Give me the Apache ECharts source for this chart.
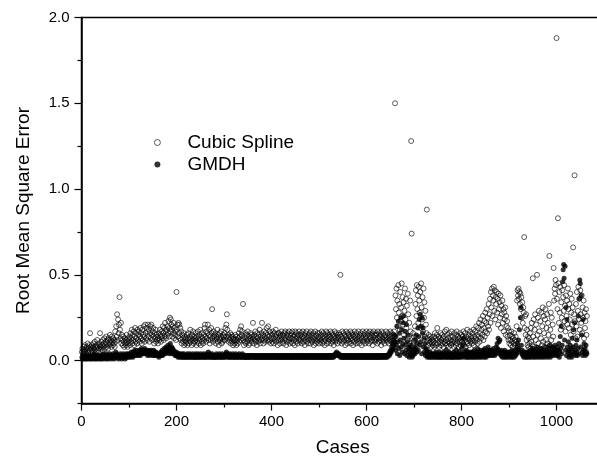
<!DOCTYPE html>
<html><head><meta charset="utf-8">
<script src="https://cdn.jsdelivr.net/npm/echarts@6/dist/echarts.min.js"></script>
<style>html,body{margin:0;padding:0;background:#fff}#c{width:597px;height:456px}</style>
</head><body><div id="c"></div>
<script>
// Values in hundredths, case index starts at 1
const cubicSpline = [
5,7,4,6,8,5,9,6,4,7,8,6,10,5,7,9,6,16,8,7,
6,9,5,8,10,7,6,11,8,5,9,7,12,8,6,10,7,9,16,8,
7,11,9,6,12,8,10,13,7,9,11,14,8,10,12,7,13,9,11,15,
10,12,8,14,11,9,13,10,12,8,17,11,20,14,27,12,24,16,21,37,
18,13,22,10,15,12,9,14,11,8,13,10,12,9,15,11,8,13,10,12,
14,9,16,11,13,18,10,15,12,17,9,14,19,11,16,13,10,18,12,15,
17,11,14,19,13,16,10,18,12,15,20,14,11,21,16,13,19,12,17,21,
14,18,11,16,20,13,21,15,12,17,19,14,10,16,13,18,11,15,12,14,
10,13,16,12,18,15,11,14,17,13,20,16,12,19,14,22,17,13,18,15,
20,16,23,14,19,25,17,24,21,18,14,20,16,22,13,19,15,17,12,40,
18,21,14,22,16,21,13,19,12,17,10,15,13,11,16,9,14,12,10,13,
11,15,9,13,16,10,12,14,18,11,13,9,15,12,17,10,14,11,13,16,
12,9,14,11,17,13,10,15,12,18,9,14,16,11,13,10,15,12,19,21,
14,11,17,13,16,21,12,15,18,10,14,12,19,16,30,13,11,17,14,15,
12,16,10,14,13,18,11,15,9,13,16,12,14,17,10,13,11,15,12,14,
16,12,19,14,21,27,18,13,15,11,14,12,16,10,13,15,11,14,9,12,
13,10,12,15,11,9,14,12,10,13,16,11,14,18,12,20,15,17,13,33,
12,9,14,11,16,10,13,15,11,17,12,9,14,10,13,16,12,15,11,14,
22,13,10,15,12,17,11,14,9,16,13,11,15,12,18,10,14,12,16,22,
13,15,10,17,12,14,11,16,13,19,12,15,20,11,14,17,12,16,10,13,
15,11,17,13,10,16,12,14,18,11,15,13,9,16,12,16,14,10,15,12,
17,13,11,15,10,14,16,12,17,13,9,15,11,16,14,12,17,10,13,15,
11,16,13,17,10,14,12,15,9,17,13,11,16,14,10,15,12,17,13,11,
15,12,16,10,14,17,11,13,15,9,16,12,14,17,11,13,10,15,12,16,
14,10,17,12,15,11,13,16,9,14,12,17,10,15,13,11,16,12,14,10,
16,13,11,15,12,17,10,14,16,11,13,9,15,12,17,14,10,16,13,11,
15,12,14,17,10,13,16,11,15,12,9,14,17,13,11,16,12,15,10,14,
13,16,11,15,50,12,14,10,17,13,11,16,12,15,9,14,17,12,13,10,
16,12,15,11,14,17,10,13,16,12,15,9,14,11,17,13,15,10,16,12,
14,11,17,13,10,15,12,16,14,9,13,17,11,15,12,16,10,14,13,17,
11,15,12,16,10,14,17,13,11,15,12,16,9,14,17,12,15,11,13,16,
12,15,10,17,13,11,16,14,12,15,9,17,13,11,16,12,14,10,15,13,
17,12,14,11,16,13,10,15,12,17,14,11,16,13,12,15,10,17,14,150,
38,30,42,25,35,20,44,28,33,18,40,23,31,45,26,37,21,34,15,29,
42,24,36,19,32,12,39,27,14,22,10,35,17,128,74,13,9,16,11,14,
12,20,33,41,26,44,30,38,22,43,35,28,40,19,45,31,24,37,17,42,
25,34,14,29,21,16,88,11,13,9,15,12,10,14,11,8,13,10,12,9,
11,14,8,16,10,13,9,15,19,12,10,14,8,13,11,16,9,12,15,10,
13,8,14,11,17,10,12,18,9,15,11,13,8,16,10,14,12,9,17,11,
10,14,12,8,16,11,13,9,15,17,10,12,14,8,13,11,16,9,12,15,
11,14,10,17,9,13,12,16,8,14,11,18,10,13,15,9,12,17,11,14,
13,10,16,12,18,9,14,11,17,13,20,12,15,10,19,14,22,11,16,24,
13,18,21,15,26,12,19,23,14,28,17,22,30,16,25,20,33,18,27,36,
22,40,31,42,26,38,35,43,29,41,24,37,33,40,28,36,21,39,30,34,
25,38,19,32,27,35,22,30,17,28,24,31,15,26,20,23,14,19,12,17,
10,15,12,9,17,11,14,8,13,10,16,12,9,14,11,20,35,41,38,42,
36,40,33,39,30,37,25,34,22,31,28,72,19,26,15,27,12,18,9,14,
8,13,10,16,7,19,11,22,9,48,14,24,8,18,27,12,21,6,50,15,
25,10,29,17,7,23,13,28,9,20,31,11,26,16,8,24,30,12,19,27,
10,22,15,33,61,9,18,28,12,25,7,21,14,54,35,42,39,47,44,188,
36,30,83,45,22,40,28,43,18,34,25,41,20,37,29,44,23,32,17,38,
26,35,21,42,30,19,33,24,39,15,28,36,21,31,66,17,27,108,23,13,
33,20,40,14,29,43,24,36,18,41,27,22,38,16,31,25,35,13,28,19,
23,30,15,26
];
const gmdh = [
2,1,3,2,1,2,3,1,2,2,1,3,2,1,2,3,2,1,2,3,
1,2,3,2,1,2,4,2,1,3,2,1,2,3,2,1,3,2,2,1,
2,3,1,2,4,2,3,1,2,3,2,4,1,2,3,2,1,3,4,2,
3,2,1,3,2,4,2,3,1,2,3,5,2,3,4,2,3,1,2,3,
2,4,3,2,1,3,2,4,3,2,3,1,2,4,3,2,3,4,2,3,
3,4,2,3,5,3,4,2,5,3,4,6,3,5,4,3,6,4,5,3,
5,4,6,3,5,7,4,6,5,4,6,5,7,4,6,5,4,6,3,5,
4,6,5,3,5,4,6,4,5,3,4,6,3,5,4,3,5,4,3,4,
3,4,2,3,4,3,5,3,4,6,3,5,4,7,5,6,4,8,5,7,
6,9,5,8,4,7,10,5,6,8,4,7,5,6,4,5,3,4,3,5,
3,4,2,3,4,3,2,4,3,2,3,4,2,3,2,4,3,2,3,2,
3,2,4,3,2,3,2,4,3,2,3,2,3,4,2,3,2,3,2,4,
2,3,2,3,4,2,3,2,3,2,4,3,2,3,2,3,4,2,3,2,
3,2,4,3,2,3,5,2,3,4,2,3,2,3,4,2,3,2,3,2,
2,3,2,4,3,2,3,2,3,4,2,3,2,3,2,4,3,2,3,2,
3,2,4,3,5,3,2,4,3,2,3,2,4,3,2,3,2,3,4,2,
3,2,3,2,4,3,2,3,2,3,2,4,3,2,3,2,3,2,4,3,
2,3,2,3,2,2,3,2,3,2,3,2,2,3,2,3,2,3,3,2,
3,2,2,3,2,3,2,2,3,2,3,2,3,2,2,3,2,3,2,2,
3,2,3,2,2,3,2,3,2,3,2,2,3,2,3,2,3,2,2,3,
2,3,2,3,2,2,3,2,3,2,3,2,2,3,2,3,2,2,3,2,
3,2,3,2,3,2,2,3,2,3,2,3,2,2,3,2,3,2,3,2,
2,3,2,2,3,2,3,2,3,2,2,3,2,3,2,3,2,2,3,2,
3,2,3,2,2,3,2,3,2,3,2,2,3,2,3,2,2,3,2,3,
2,3,2,3,2,2,3,2,3,2,3,2,2,3,2,3,2,3,2,2,
3,2,3,2,3,2,2,3,2,3,2,2,3,2,3,2,3,2,2,3,
2,3,2,3,2,3,2,2,3,3,2,3,3,4,3,4,5,4,4,3,
3,4,3,3,2,3,2,3,2,3,2,2,3,2,3,2,3,2,2,3,
2,3,2,3,2,2,3,2,3,2,3,2,2,3,2,3,2,2,3,2,
3,2,3,2,3,2,2,3,2,3,2,3,2,2,3,2,3,2,3,2,
2,3,2,2,3,2,3,2,3,2,2,3,2,3,2,3,2,2,3,2,
3,2,3,2,2,3,2,3,2,3,2,2,3,2,3,3,2,3,2,3,
2,3,3,2,3,3,4,3,5,4,6,5,8,6,10,7,12,9,15,11,
6,14,9,20,4,11,23,7,16,3,12,25,8,18,5,10,22,26,13,4,
9,17,6,21,3,11,15,5,8,2,7,4,9,3,6,2,5,3,4,6,
8,4,12,7,15,5,10,19,6,14,24,9,27,11,20,4,25,16,19,8,
13,5,10,3,7,4,6,2,5,3,4,2,3,5,2,4,3,2,3,4,
3,2,4,3,2,5,3,2,4,3,2,3,5,2,3,4,2,3,2,4,
3,5,2,3,4,2,3,6,2,4,3,2,3,5,2,3,4,2,3,2,
4,2,3,5,2,3,4,2,6,3,2,4,3,2,5,3,2,4,3,7,
2,4,9,13,3,5,2,4,3,6,2,3,5,2,4,3,2,5,3,4,
2,3,5,2,4,3,6,2,3,4,2,5,3,7,2,4,3,5,2,6,
3,4,2,5,3,6,4,2,7,3,5,2,4,6,3,8,4,5,3,6,
4,3,6,4,5,3,7,4,5,3,6,4,8,5,10,7,13,6,11,4,
12,5,3,6,4,2,5,3,4,2,6,3,5,2,4,3,5,2,4,3,
3,5,2,4,3,6,2,4,3,5,2,4,6,3,5,4,8,10,6,12,
7,18,5,25,31,9,4,6,3,5,2,4,3,5,2,3,4,2,5,3,
4,2,5,3,6,2,4,3,5,7,2,4,3,6,2,5,3,4,8,2,
5,3,4,6,2,5,3,7,4,2,5,3,6,4,2,5,8,3,4,6,
2,5,3,7,4,9,2,5,3,6,4,8,3,5,7,4,9,5,3,6,
4,8,3,6,10,2,5,14,7,20,4,9,46,53,56,48,12,55,6,31,
3,24,8,5,11,2,6,4,9,3,7,2,13,5,8,18,4,22,6,3,
9,5,12,3,7,26,4,36,47,45,8,38,15,5,3,24,6,10,4,7,
3,9,5,4
];
const seriesNames = ['Cubic Spline', 'GMDH'];
const xLabels = [0, 200, 400, 600, 800, 1000];
const yLabels = [0, 0.5, 1.0, 1.5, 2.0];
const yMinor = [-0.25, 0.25, 0.75, 1.25, 1.75];

const toPoints = arr => arr.map((v, i) => [i + 1, v / 100]);
const FONT = 'Liberation Sans, Arial, sans-serif';
const chart = echarts.init(document.getElementById('c'), null, {renderer: 'canvas'});
chart.setOption({
  animation: false,
  backgroundColor: '#fff',
  grid: {left: 81.5, top: 17.5, width: 522.5, height: 386, outerBoundsMode: 'none', containLabel: false,
         show: true, borderColor: '#000', borderWidth: 1.5, backgroundColor: 'transparent'},
  legend: {
    orient: 'vertical', left: 149, top: 128, itemWidth: 6, itemHeight: 6, itemGap: 3,
    textStyle: {fontFamily: FONT, fontSize: 19, lineHeight: 19, color: '#000', padding: [0, 0, 0, 22]},
    data: [
      {name: seriesNames[0], icon: 'circle', itemStyle: {color: '#fff', borderColor: '#000', borderWidth: 0.8}},
      {name: seriesNames[1], icon: 'circle', itemStyle: {color: '#000'}}
    ]
  },
  xAxis: {
    type: 'value', min: 0, max: 1100, interval: 200,
    axisLine: {show: true, onZero: false, lineStyle: {color: '#000', width: 1.5}},
    axisTick: {show: true, length: 7, lineStyle: {color: '#000', width: 1.2}},
    minorTick: {show: true, splitNumber: 2, length: 4, lineStyle: {color: '#000', width: 1.2}},
    axisLabel: {customValues: xLabels, formatter: v => String(v), fontFamily: FONT, fontSize: 15, color: '#000', margin: 11},
    splitLine: {show: false}, minorSplitLine: {show: false},
    name: 'Cases', nameLocation: 'middle', nameGap: 35,
    nameTextStyle: {fontFamily: FONT, fontSize: 19, color: '#000'}
  },
  yAxis: [{
    type: 'value', min: -0.25, max: 2, interval: 0.25,
    axisLine: {show: true, onZero: false, lineStyle: {color: '#000', width: 1.5}},
    axisTick: {show: true, customValues: yLabels, length: 7, lineStyle: {color: '#000', width: 1.2}},
    axisLabel: {customValues: yLabels, formatter: v => v.toFixed(1), fontFamily: FONT, fontSize: 15, color: '#000', margin: 12},
    splitLine: {show: false},
    name: 'Root Mean Square Error', nameLocation: 'middle', nameGap: 48,
    nameTextStyle: {fontFamily: FONT, fontSize: 19, color: '#000'}
  }, {
    type: 'value', min: -0.25, max: 2, interval: 0.25, position: 'left',
    axisLine: {show: false},
    axisTick: {show: true, customValues: yMinor, length: 4, lineStyle: {color: '#000', width: 1.2}},
    axisLabel: {show: false}, splitLine: {show: false}
  }],
  series: [{
    name: seriesNames[0], type: 'scatter', yAxisIndex: 0, symbol: 'circle', symbolSize: 5,
    itemStyle: {color: 'rgba(255,255,255,0)', borderColor: '#000', borderWidth: 0.8},
    emphasis: {disabled: true},
    data: toPoints(cubicSpline)
  }, {
    name: seriesNames[1], type: 'scatter', yAxisIndex: 0, symbol: 'circle', symbolSize: 5,
    itemStyle: {color: '#000'},
    emphasis: {disabled: true},
    data: toPoints(gmdh)
  }]
});
</script>
</body></html>
